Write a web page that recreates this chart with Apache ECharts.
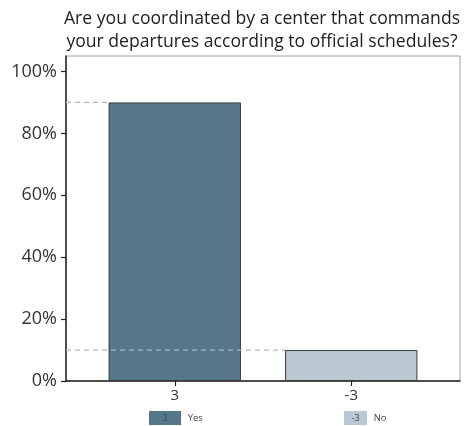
<!DOCTYPE html>
<html>
<head>
<meta charset="utf-8">
<script src="https://cdn.jsdelivr.net/npm/echarts@6/dist/echarts.min.js"></script>
<style>
  html, body { margin: 0; padding: 0; background: #fff; }
  #chart { width: 472px; height: 426px; }
</style>
</head>
<body>
<div id="chart"></div>
<script>
// Survey answers: category codes, answer names and share of respondents (%)
const categories = ['3', '-3'];
const answers = ['Yes', 'No'];
const shares = [90, 10];
const yTicks = [0, 20, 40, 60, 80, 100];
const titleText = 'Are you coordinated by a center that commands\nyour departures according to official schedules?';

const colors = ['#56768a', '#b9c8d2'];
const FONT = '"Open Sans", sans-serif';
const FRAME_PAD = 20.5; // gap between the frame's left edge and the first category band

const chart = echarts.init(document.getElementById('chart'), null, { renderer: 'canvas' });

// one stacked bar series per answer so both sit at their own category centre
const barSeries = answers.map((name, i) => ({
  type: 'bar',
  name: name,
  xAxisIndex: 1,
  yAxisIndex: 1,
  stack: 'all',
  barWidth: '75%',
  z: 2,
  data: shares.map((v, j) => (j === i ? v : '-')),
  itemStyle: { color: colors[i], borderColor: '#3a3a3a', borderWidth: 1 }
}));

// dashed guide from the y axis to the left edge of each bar at its value
const guideSeries = {
  type: 'custom',
  xAxisIndex: 1,
  yAxisIndex: 1,
  z: 5,
  silent: true,
  data: shares.map((v, j) => [j, v]),
  renderItem: function (params, api) {
    const p = api.coord([api.value(0), api.value(1)]);
    const half = api.size([1, 0])[0] * 0.75 / 2;
    const x0 = params.coordSys.x - FRAME_PAD;
    return {
      type: 'line',
      shape: { x1: x0, y1: p[1], x2: p[0] - half, y2: p[1] },
      style: { stroke: '#a9bcc8', lineWidth: 1.2, lineDash: [5, 4] }
    };
  }
};

function legendFor(i, left) {
  return {
    data: [answers[i]],
    left: left,
    top: 406,
    icon: 'none',
    itemWidth: 0,
    itemHeight: 0,
    selectedMode: false,
    formatter: name => '{b|' + categories[i] + '}  {t|' + name + '}',
    textStyle: {
      rich: {
        b: {
          backgroundColor: colors[i], width: i === 0 ? 32 : 23, height: 14,
          align: 'center', fontSize: 9, color: '#34495a', fontFamily: FONT
        },
        t: { fontSize: 9.5, color: '#444', fontFamily: FONT }
      }
    }
  };
}

const option = {
  backgroundColor: '#fff',
  animation: false,
  title: {
    text: titleText,
    left: 257,
    textAlign: 'center',
    top: 2,
    textStyle: { fontFamily: FONT, fontSize: 17.6, fontWeight: 'normal', color: '#222', lineHeight: 23 }
  },
  legend: [legendFor(0, 139), legendFor(1, 334)],
  grid: [
    { left: 66, right: 12, top: 56, bottom: 45, show: true, borderColor: '#a0a0a0', borderWidth: 1 },
    { left: 66 + FRAME_PAD, right: 12 + FRAME_PAD, top: 56, bottom: 45 }
  ],
  xAxis: [
    {
      type: 'category', gridIndex: 0, data: categories,
      axisLine: { lineStyle: { color: '#222', width: 1.5 } },
      axisTick: { show: false }, axisLabel: { show: false }
    },
    {
      type: 'category', gridIndex: 1, data: categories,
      axisLine: { show: false },
      axisTick: { show: true, alignWithLabel: true, length: 5, lineStyle: { color: '#222', width: 1.2 } },
      axisLabel: { fontFamily: FONT, fontSize: 15, color: '#333', margin: 7 }
    }
  ],
  yAxis: [
    {
      type: 'value', gridIndex: 0, min: 0, max: 105,
      splitLine: { show: false },
      axisLine: { show: true, lineStyle: { color: '#222', width: 1.5 } },
      axisTick: { show: true, length: 5, customValues: yTicks, lineStyle: { color: '#222', width: 1.2 } },
      axisLabel: {
        customValues: yTicks, formatter: v => v + '%',
        fontFamily: FONT, fontSize: 18, color: '#333', margin: 9
      }
    },
    {
      type: 'value', gridIndex: 1, min: 0, max: 105, show: false,
      splitLine: { show: false }
    }
  ],
  series: [...barSeries, guideSeries]
};

chart.setOption(option);
</script>
</body>
</html>
